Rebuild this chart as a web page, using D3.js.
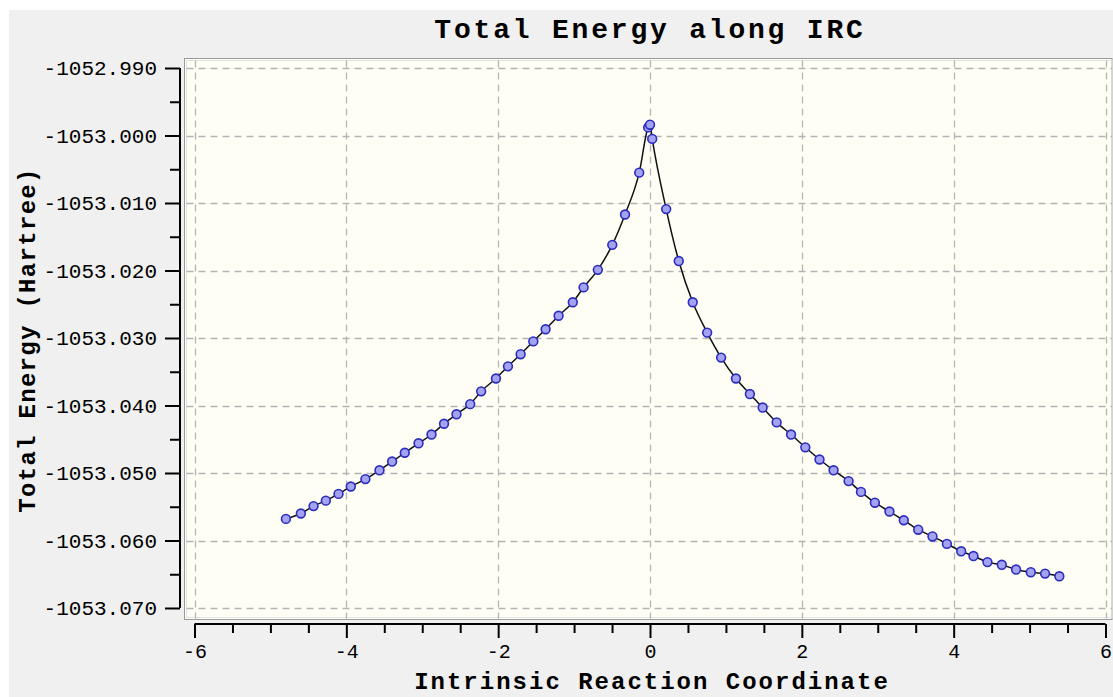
<!DOCTYPE html>
<html>
<head>
<meta charset="utf-8">
<script src="https://cdn.jsdelivr.net/npm/d3@7"></script>
<style>
  html, body { margin: 0; padding: 0; background: #ffffff; }
  svg { display: block; }
</style>
</head>
<body>
<script>
// ---- data ----
const chartTitle = "Total Energy along IRC";
const xLabel = "Intrinsic Reaction Coordinate";
const yLabel = "Total Energy (Hartree)";

const ircCoord = [-4.796,-4.599,-4.432,-4.270,-4.103,-3.941,-3.749,-3.563,-3.397,-3.230,
  -3.049,-2.878,-2.713,-2.549,-2.368,-2.224,-2.029,-1.871,-1.704,-1.537,
  -1.375,-1.204,-1.017,-0.875,-0.687,-0.497,-0.329,-0.142,-0.024,0.000,
  0.029,0.213,0.379,0.563,0.753,0.937,1.132,1.316,1.484,1.668,
  1.858,2.046,2.233,2.418,2.616,2.779,2.962,3.154,3.343,3.533,
  3.721,3.911,4.099,4.261,4.445,4.634,4.822,5.016,5.204,5.392];

const totalEnergy = [-1053.0568,-1053.0560,-1053.0549,-1053.0541,-1053.0531,-1053.0520,-1053.0509,-1053.0496,-1053.0483,-1053.0470,
  -1053.0456,-1053.0443,-1053.0427,-1053.0413,-1053.0398,-1053.0379,-1053.0360,-1053.0342,-1053.0324,-1053.0305,
  -1053.0287,-1053.0267,-1053.0247,-1053.0225,-1053.0199,-1053.0162,-1053.0117,-1053.0055,-1052.9988,-1052.9984,
  -1053.0005,-1053.0109,-1053.0186,-1053.0247,-1053.0292,-1053.0329,-1053.0360,-1053.0383,-1053.0403,-1053.0425,
  -1053.0443,-1053.0462,-1053.0480,-1053.0496,-1053.0512,-1053.0528,-1053.0544,-1053.0557,-1053.0570,-1053.0584,
  -1053.0594,-1053.0605,-1053.0616,-1053.0623,-1053.0632,-1053.0636,-1053.0643,-1053.0647,-1053.0649,-1053.0653];

const xTicks = [-6,-4,-2,0,2,4,6];
const xMinorTicks = [-5.5,-5,-4.5,-3.5,-3,-2.5,-1.5,-1,-0.5,0.5,1,1.5,2.5,3,3.5,4.5,5,5.5];
const yTicks = [-1052.990,-1053.000,-1053.010,-1053.020,-1053.030,-1053.040,-1053.050,-1053.060,-1053.070];
const yMinorTicks = [-1052.995,-1053.005,-1053.015,-1053.025,-1053.035,-1053.045,-1053.055,-1053.065];

// ---- layout ----
const W = 1113, H = 697;
const svg = d3.select("body").append("svg").attr("width", W).attr("height", H);

svg.append("rect").attr("x", 9).attr("y", 10).attr("width", W - 9).attr("height", H - 10).attr("fill", "#f0f0f0");

const x = d3.scaleLinear().domain([-6, 6]).range([194.5, 1105.5]);
const y = d3.scaleLinear().domain([-1052.99, -1053.07]).range([68, 608]);

const frame = {x0: 184.5, y0: 58.5, x1: 1112, y1: 619.5};

// plot area
svg.append("rect")
  .attr("x", frame.x0).attr("y", frame.y0)
  .attr("width", frame.x1 - frame.x0).attr("height", frame.y1 - frame.y0)
  .attr("fill", "#fefef4").attr("stroke", "#9a9a9a").attr("stroke-width", 1);
svg.append("rect")
  .attr("x", frame.x0 + 2).attr("y", frame.y0 + 2)
  .attr("width", frame.x1 - frame.x0 - 2).attr("height", frame.y1 - frame.y0 - 4)
  .attr("fill", "none").attr("stroke", "#e2e2e2").attr("stroke-width", 1);

// grid
const grid = svg.append("g").attr("stroke", "#b4b4b4").attr("stroke-width", 1.3)
  .attr("stroke-dasharray", "7,5");
grid.selectAll("line.v").data(xTicks).join("line")
  .attr("x1", d => Math.round(x(d)) + 0.5).attr("x2", d => Math.round(x(d)) + 0.5)
  .attr("y1", frame.y0 + 2).attr("y2", frame.y1 - 1);
grid.selectAll("line.h").data(yTicks).join("line")
  .attr("y1", d => Math.round(y(d)) + 0.5).attr("y2", d => Math.round(y(d)) + 0.5)
  .attr("x1", frame.x0 + 2).attr("x2", frame.x1);

// axes
const fontTick = "'Liberation Mono', 'DejaVu Sans Mono', monospace";

const yAxis = d3.axisLeft(y).tickValues(yTicks).tickSize(15).tickPadding(8)
  .tickFormat(d => d.toFixed(3));
const yAxisMinor = d3.axisLeft(y).tickValues(yMinorTicks).tickSize(10).tickFormat("");
const gy = svg.append("g").attr("transform", "translate(180,0)").call(yAxis);
svg.append("g").attr("transform", "translate(180,0)").call(yAxisMinor).select(".domain").remove();
gy.selectAll("text").attr("font-family", fontTick).attr("font-size", 21).attr("fill", "#000");

const xAxis = d3.axisBottom(x).tickValues(xTicks).tickSize(14).tickPadding(6)
  .tickFormat(d => String(d));
const xAxisMinor = d3.axisBottom(x).tickValues(xMinorTicks).tickSize(9).tickFormat("");
const gx = svg.append("g").attr("transform", "translate(0,624)").call(xAxis);
svg.append("g").attr("transform", "translate(0,624)").call(xAxisMinor).select(".domain").remove();
gx.selectAll("text").attr("font-family", fontTick).attr("font-size", 20).attr("fill", "#000");

svg.selectAll(".domain").attr("stroke", "#000").attr("stroke-width", 2);
svg.selectAll(".tick line").attr("stroke", "#000").attr("stroke-width", 2);
gy.select(".domain").attr("d", `M0,${y(-1052.99)}V${y(-1053.07)}`);
gx.select(".domain").attr("d", `M${x(-6)},0H${x(6)}`);

// data
const pts = ircCoord.map((v, i) => ({x: v, e: totalEnergy[i]}));
const line = d3.line().x(d => x(d.x)).y(d => y(d.e)).curve(d3.curveMonotoneX);
svg.append("path").datum(pts).attr("d", line)
  .attr("fill", "none").attr("stroke", "#111").attr("stroke-width", 1.5);
svg.append("g").selectAll("circle").data(pts).join("circle")
  .attr("cx", d => x(d.x)).attr("cy", d => y(d.e)).attr("r", 4.4)
  .attr("fill", "#a3a3f2").attr("stroke", "#2b2bbd").attr("stroke-width", 1.6);

// titles
svg.append("text").text(chartTitle)
  .attr("x", 650).attr("y", 38).attr("text-anchor", "middle")
  .attr("font-family", fontTick).attr("font-weight", "bold")
  .attr("font-size", 28).attr("letter-spacing", 2.8).attr("fill", "#000");
svg.append("text").text(xLabel)
  .attr("x", 652).attr("y", 689).attr("text-anchor", "middle")
  .attr("font-family", fontTick).attr("font-weight", "bold")
  .attr("font-size", 24).attr("letter-spacing", 2.0).attr("fill", "#000");
svg.append("text").text(yLabel)
  .attr("transform", "translate(35,340) rotate(-90)").attr("text-anchor", "middle")
  .attr("font-family", fontTick).attr("font-weight", "bold")
  .attr("font-size", 24).attr("letter-spacing", 1.3).attr("fill", "#000");
</script>
</body>
</html>
